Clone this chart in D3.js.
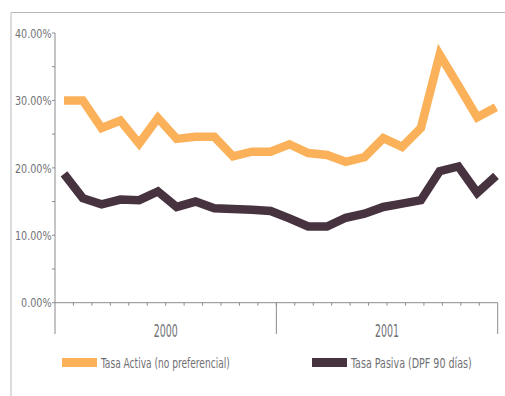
<!DOCTYPE html>
<html>
<head>
<meta charset="utf-8">
<script src="https://cdn.jsdelivr.net/npm/d3@7"></script>
<style>
  body { margin: 0; background: #fff; }
  svg { display: block; }
</style>
</head>
<body>
<svg id="chart" width="505" height="396"></svg>
<script>
// Monthly interest rates, 2000–2001 (percent)
const years = ["2000", "2001"];
const monthNames = ["ene", "feb", "mar", "abr", "may", "jun", "jul", "ago", "sep", "oct", "nov", "dic"];
const months = years.flatMap(y => monthNames.map(m => m + "-" + y.slice(2)));

const tasaActiva = [30.0, 30.0, 25.9, 27.0, 23.6, 27.4, 24.3, 24.6, 24.6, 21.7, 22.4, 22.4,
                    23.5, 22.2, 21.9, 20.9, 21.6, 24.4, 23.1, 25.9, 36.8, 32.2, 27.5, 29.0];
const tasaPasiva = [19.1, 15.5, 14.6, 15.3, 15.2, 16.5, 14.2, 15.0, 14.0, 13.9, 13.8, 13.6,
                    12.5, 11.3, 11.3, 12.6, 13.2, 14.2, 14.7, 15.2, 19.5, 20.2, 16.3, 18.8];

const yTicks = [0, 10, 20, 30, 40];
const yMinorTicks = [5, 15, 25, 35];
const seriesNames = ["Tasa Activa (no preferencial)", "Tasa Pasiva (DPF 90 días)"];
const seriesColors = ["#fbb15a", "#47323f"];

const FONT = "'DejaVu Sans Condensed', 'Liberation Sans', sans-serif";
const svg = d3.select("#chart");

// Narrow type: squeeze a text horizontally so it spans the given width
function squeeze(sel, width, anchor) {
  sel.each(function () {
    const t = d3.select(this);
    const x = +t.attr("x"), yy = +t.attr("y");
    const w = this.getComputedTextLength();
    const sx = width(t.text()) / w;
    const ox = anchor === "end" ? x : anchor === "middle" ? x : x;
    t.attr("transform", `translate(${ox},${yy}) scale(${sx},1) translate(${-ox},${-yy})`);
  });
}

// outer frame (top and left edges)
svg.append("path")
  .attr("d", "M11,396 V12.5 H505")
  .attr("fill", "none").attr("stroke", "#b9b9bd").attr("stroke-width", 1);

const plot = { left: 55, right: 497.7, top: 33, bottom: 302.7 };

const y = d3.scaleLinear().domain([0, 40]).range([plot.bottom, plot.top]);
const xBand = d3.scaleBand().domain(months).range([plot.left, plot.right]);
const xPoint = d3.scalePoint().domain(months).range([64, 496]);

const axisColor = "#8a8a90";
const textColor = "#707074";

// y axis line + ticks
svg.append("line")
  .attr("x1", plot.left).attr("x2", plot.left)
  .attr("y1", plot.top).attr("y2", 334)
  .attr("stroke", axisColor).attr("stroke-width", 1);

svg.selectAll(".ytick").data(yTicks.concat(yMinorTicks)).join("line")
  .attr("x1", plot.left - 3).attr("x2", plot.left)
  .attr("y1", d => y(d)).attr("y2", d => y(d))
  .attr("stroke", axisColor);

svg.selectAll(".ylabel").data(yTicks).join("text")
  .attr("x", plot.left - 3.5).attr("y", d => y(d) + 4.8)
  .attr("text-anchor", "end")
  .attr("font-family", FONT).attr("font-size", 13)
  .attr("fill", textColor)
  .text(d => d.toFixed(2) + "%")
  .call(squeeze, s => s.length * 6.1, "end");

// x axis line with month ticks
svg.append("line")
  .attr("x1", plot.left).attr("x2", plot.right)
  .attr("y1", plot.bottom).attr("y2", plot.bottom)
  .attr("stroke", axisColor);

svg.selectAll(".xtick").data(months.slice(1)).join("line")
  .attr("x1", d => xBand(d)).attr("x2", d => xBand(d))
  .attr("y1", plot.bottom).attr("y2", plot.bottom + 3)
  .attr("stroke", axisColor);

// year separators
const yearEdges = [months[12], null];
svg.selectAll(".ysep").data(yearEdges).join("line")
  .attr("x1", d => d ? xBand(d) : plot.right)
  .attr("x2", d => d ? xBand(d) : plot.right)
  .attr("y1", plot.bottom).attr("y2", 334)
  .attr("stroke", axisColor);

// year labels
svg.selectAll(".year").data(years).join("text")
  .attr("x", (d, i) => (xBand(months[i * 12]) + xBand(months[i * 12 + 11]) + xBand.bandwidth()) / 2)
  .attr("y", 337)
  .attr("text-anchor", "middle")
  .attr("font-family", FONT).attr("font-size", 17)
  .attr("fill", textColor)
  .text(d => d)
  .call(squeeze, () => 24, "middle");

// series lines
const line = d3.line()
  .x((d, i) => xPoint(months[i]))
  .y(d => y(d));

[tasaActiva, tasaPasiva].forEach((s, k) => {
  svg.append("path")
    .datum(s)
    .attr("d", line)
    .attr("fill", "none")
    .attr("stroke", seriesColors[k])
    .attr("stroke-width", 8.5)
    .attr("stroke-linejoin", "miter")
    .attr("stroke-linecap", "butt");
});

// legend
const legendX = [62, 312];
const legendW = [129, 121];
seriesNames.forEach((name, k) => {
  svg.append("rect")
    .attr("x", legendX[k]).attr("y", 358)
    .attr("width", 35).attr("height", 9)
    .attr("fill", seriesColors[k]);
  svg.append("text")
    .attr("x", legendX[k] + 39).attr("y", 368.5)
    .attr("font-family", FONT).attr("font-size", 14)
    .attr("fill", textColor)
    .text(name)
    .call(squeeze, () => legendW[k], "start");
});
</script>
</body>
</html>
